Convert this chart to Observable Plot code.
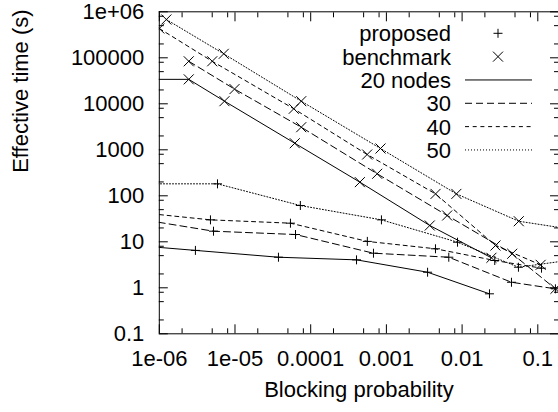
<!DOCTYPE html>
<html><head><meta charset="utf-8">
<script src="https://cdn.jsdelivr.net/npm/d3@7"></script>
<script src="https://cdn.jsdelivr.net/npm/@observablehq/plot@0.6"></script>
<style>html,body{margin:0;padding:0;background:#fff;}</style>
</head><body><div id="chart"></div>
<script>
// ---- tick labels ----
const xMajor = [1e-6, 1e-5, 1e-4, 1e-3, 1e-2, 1e-1];
const xTickLabels = ["1e-06", "1e-05", "0.0001", "0.001", "0.01", "0.1"];
const yMajor = [0.1, 1, 10, 100, 1000, 1e4, 1e5, 1e6];
const yTickLabels = ["0.1", "1", "10", "100", "1000", "10000", "100000", "1e+06"];
const minorMult = [2, 5, 8];
const xDomain = [1e-6, 0.1877];
const yDomain = [0.1, 1e6];

// ---- series ----
const seriesNames = ["20 nodes", "30", "40", "50"];
const methodNames = ["proposed", "benchmark"];

// benchmark (x markers): blocking probability / effective time
const benchP20 = [5e-7, 2.45e-6, 7.26e-6, 6.16e-5, 4.46e-4, 3.74e-3, 0.0244];
const benchT20 = [3.4e4, 3.4e4, 1.14e4, 1390, 198, 22.6, 4.49];
const benchP30 = [2.45e-6, 9.85e-6, 7.5e-5, 7.55e-4, 6.35e-3, 0.0459, 0.171];
const benchT30 = [8.4e4, 2.09e4, 3100, 301, 37.3, 5.5, 0.95];
const benchP40 = [1e-6, 5.0e-6, 5.98e-5, 5.57e-4, 4.46e-3, 0.0276, 0.109];
const benchT40 = [4.34e5, 8.4e4, 7800, 790, 110, 8.3, 3.16];
const benchP50 = [1.24e-6, 7.1e-6, 7.5e-5, 8.36e-4, 8.4e-3, 0.0561, 0.3];
const benchT50 = [6.8e5, 1.22e5, 1.14e4, 1067, 110, 28, 18.3];

// proposed (+ markers)
const propP20 = [5e-7, 3.0e-6, 3.75e-5, 4.03e-4, 3.5e-3, 0.023];
const propT20 = [8.3, 6.5, 4.62, 4.05, 2.18, 0.74];
const propP30 = [5e-7, 5.2e-6, 6.3e-5, 6.75e-4, 6.67e-3, 0.0449, 0.171];
const propT30 = [31.8, 17, 14.4, 5.65, 4.62, 1.32, 0.95];
const propP40 = [5e-7, 4.74e-6, 5.4e-5, 5.6e-4, 4.45e-3, 0.027, 0.112];
const propT40 = [43.9, 30, 25.4, 10.2, 7.05, 3.92, 2.67];
const propP50 = [5e-7, 5.87e-6, 7.3e-5, 8.6e-4, 8.7e-3, 0.0555, 0.3];
const propT50 = [182, 182, 61.5, 30, 9.8, 2.8, 4.1];

const dashes = [null, "7,4", "4,3.7", "1,2"];

const benchP = [benchP20, benchP30, benchP40, benchP50];
const benchT = [benchT20, benchT30, benchT40, benchT50];
const propP = [propP20, propP30, propP40, propP50];
const propT = [propT20, propT30, propT40, propT50];

function rows(P, T, s, m) { return P.map((p, i) => ({p, t: T[i], series: s, method: m})); }

const plusSym = {draw(ctx, size) { const r = Math.sqrt(size / Math.PI); ctx.moveTo(-r, 0); ctx.lineTo(r, 0); ctx.moveTo(0, -r); ctx.lineTo(0, r); }};
const timesSym = {draw(ctx, size) { const r = Math.sqrt(size / Math.PI); ctx.moveTo(-r, -r); ctx.lineTo(r, r); ctx.moveTo(-r, r); ctx.lineTo(r, -r); }};

function minorTicks(domain) {
  const out = [];
  for (let e = Math.floor(Math.log10(domain[0])); e <= Math.ceil(Math.log10(domain[1])); e++) {
    for (const m of minorMult) { const v = m * Math.pow(10, e); if (v > domain[0] && v < domain[1]) out.push(v); }
  }
  return out;
}
const xMinor = minorTicks(xDomain);
const yMinor = minorTicks(yDomain);

const marks = [];
// frame (left, bottom, top)
marks.push(Plot.ruleX([xDomain[0]], {stroke: "black", strokeWidth: 1}));
marks.push(Plot.ruleY([yDomain[0], yDomain[1]], {stroke: "black", strokeWidth: 1}));

// inward ticks
const tk = {stroke: "black", strokeWidth: 1, tickFormat: () => "", label: null};
marks.push(Plot.axisY({...tk, anchor: "left", ticks: yMajor, tickSize: 9, dx: 9}));
marks.push(Plot.axisY({...tk, anchor: "left", ticks: yMinor, tickSize: 5, dx: 5}));
marks.push(Plot.axisY({...tk, anchor: "right", ticks: yMajor, tickSize: 9, dx: -9}));
marks.push(Plot.axisY({...tk, anchor: "right", ticks: yMinor, tickSize: 5, dx: -5}));
marks.push(Plot.axisX({...tk, anchor: "bottom", ticks: xMajor, tickSize: 9, dy: -9}));
marks.push(Plot.axisX({...tk, anchor: "bottom", ticks: xMinor, tickSize: 5, dy: -5}));
marks.push(Plot.axisX({...tk, anchor: "top", ticks: xMajor, tickSize: 9, dy: 9}));
marks.push(Plot.axisX({...tk, anchor: "top", ticks: xMinor, tickSize: 5, dy: 5}));

// tick labels
marks.push(Plot.axisY({anchor: "left", ticks: yMajor, tickSize: 0, tickPadding: 15, label: null,
  tickFormat: d => yTickLabels[yMajor.indexOf(d)], fill: "black"}));
marks.push(Plot.axisX({anchor: "bottom", ticks: xMajor, tickSize: 0, tickPadding: 17, label: null,
  tickFormat: d => xTickLabels[xMajor.indexOf(d)], fill: "black"}));

// axis titles
marks.push(Plot.text(["Blocking probability"], {frameAnchor: "bottom", dy: 56, lineAnchor: "middle", fill: "black"}));
marks.push(Plot.text(["Effective time (s)"], {frameAnchor: "left", dx: -138, rotate: -90, lineAnchor: "middle", fill: "black"}));

// data
seriesNames.forEach((s, k) => {
  const b = rows(benchP[k], benchT[k], s, "benchmark");
  const p = rows(propP[k], propT[k], s, "proposed");
  for (const d of [b, p]) {
    marks.push(Plot.line(d, {x: "p", y: "t", stroke: "black", strokeWidth: 1, strokeDasharray: dashes[k], clip: true}));
  }
  marks.push(Plot.dot(b, {x: "p", y: "t", symbol: timesSym, r: 5, stroke: "black", fill: "none", strokeWidth: 1, clip: true}));
  marks.push(Plot.dot(p, {x: "p", y: "t", symbol: plusSym, r: 4.5, stroke: "black", fill: "none", strokeWidth: 1, clip: true}));
});

const chart = Plot.plot({
  width: 558, height: 412,
  marginLeft: 158.8, marginRight: 0, marginTop: 11.3, marginBottom: 78.7,
  x: {type: "log", domain: xDomain},
  y: {type: "log", domain: yDomain},
  style: {fontFamily: "'Liberation Sans', Arial, Helvetica, sans-serif", fontSize: "22px", background: "#fff", color: "black"},
  marks
});
document.getElementById("chart").appendChild(chart);

// legend
const svg = d3.select(chart);
const g = svg.append("g").attr("font-family", "'Liberation Sans', Arial, sans-serif").attr("font-size", 22);
const legendLabels = [...methodNames, ...seriesNames];
legendLabels.forEach((lab, i) => {
  const cy = 33.3 + 23.33 * i;
  g.append("text").attr("x", 451).attr("y", cy + 8).attr("text-anchor", "end").attr("fill", "black").text(lab);
  if (i === 0) {
    const sym = d3.symbol(plusSym, Math.PI * 4.5 * 4.5);
    g.append("path").attr("d", sym()).attr("transform", `translate(498,${cy})`).attr("stroke", "black").attr("fill", "none");
  } else if (i === 1) {
    const sym = d3.symbol(timesSym, Math.PI * 5 * 5);
    g.append("path").attr("d", sym()).attr("transform", `translate(498,${cy})`).attr("stroke", "black").attr("fill", "none");
  } else {
    const k = i - 2;
    const ln = g.append("line").attr("x1", 465).attr("x2", 532).attr("y1", cy).attr("y2", cy).attr("stroke", "black").attr("stroke-width", 1);
    if (dashes[k]) ln.attr("stroke-dasharray", dashes[k]);
  }
});
</script>
</body></html>
